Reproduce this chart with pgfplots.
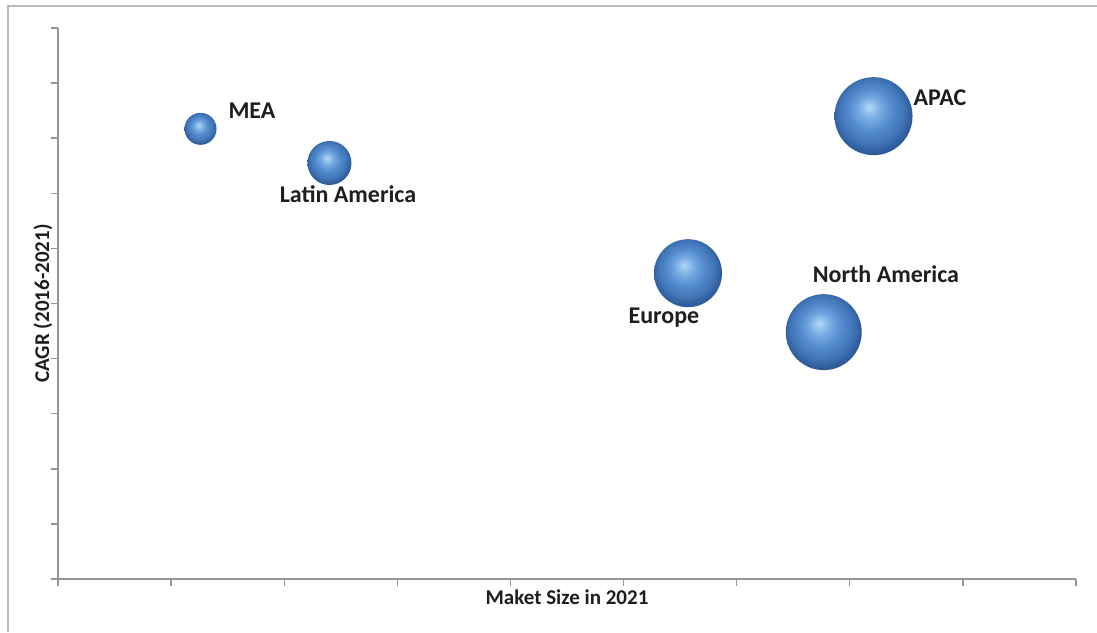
\documentclass[border=0pt]{standalone}
\usepackage{fontspec}
\setmainfont{Carlito}
\usepackage{pgfplots}
\pgfplotsset{compat=1.18}
\usepackage{pgfplotstable}

\definecolor{axisgray}{RGB}{150,150,150}
\definecolor{framegray}{RGB}{185,185,185}
\definecolor{labeltext}{RGB}{30,30,30}

\pgfdeclareradialshading{myballshade}{\pgfqpoint{-3bp}{6bp}}{%
  rgb(0bp)=(0.70,0.85,0.97);
  rgb(7bp)=(0.46,0.67,0.89);
  rgb(14bp)=(0.32,0.54,0.80);
  rgb(20bp)=(0.26,0.47,0.73);
  rgb(25bp)=(0.19,0.37,0.62);
  rgb(30bp)=(0.14,0.29,0.52);
  rgb(40bp)=(0.14,0.29,0.52)}
\pgfdeclareplotmark{myball}{%
  \pgfpathcircle{\pgfpointorigin}{\pgfplotmarksize}%
  \pgfshadepath{myballshade}{0}%
  \pgfusepath{}%
}

\pgfplotstableread{
x     y     r
1.26  8.17  8.0
2.40  7.55  11.0
7.21  8.40  19.5
5.57  5.55  17.0
6.77  4.48  19.0
}\bubbles

\begin{document}
\begin{tikzpicture}
\useasboundingbox (0,0) rectangle (548.5pt,316pt);
\draw[framegray, line width=1.2pt] (4pt,0) -- (4pt,313pt) -- (548.5pt,313pt);
\begin{axis}[
  at={(29pt,26.5pt)}, anchor=south west,
  scale only axis, width=509pt, height=275.5pt,
  xmin=0, xmax=9, ymin=0, ymax=10,
  axis x line=bottom, axis y line=left,
  axis line style={-, axisgray, line width=0.8pt},
  xtick={0,...,9}, ytick={0,...,10},
  xticklabels={}, yticklabels={},
  tick align=outside, major tick length=3.5pt,
  tick style={axisgray, line width=0.7pt},
  xlabel={\bfseries Maket Size in 2021},
  ylabel={\bfseries CAGR (2016-2021)},
  label style={font=\fontsize{10.5}{12}\selectfont, text=labeltext},
  xlabel style={at={(axis description cs:0.5,0)}, anchor=center, yshift=-9pt},
  ylabel style={at={(axis description cs:0,0.5)}, anchor=center, yshift=7.5pt},
  clip=false,
]
\addplot[scatter, only marks, mark=myball,
  visualization depends on={\thisrow{r} \as \rad},
  scatter/@pre marker code/.append style={/tikz/mark size=\rad},
] table[x=x, y=y] {\bubbles};

\begin{scope}[every node/.style={font=\fontsize{12}{14}\selectfont\bfseries, text=labeltext, inner sep=0pt}]
\node at (axis cs:1.715,8.49) {MEA};
\node at (axis cs:2.564,6.99) {Latin America};
\node at (axis cs:7.797,8.73) {APAC};
\node at (axis cs:7.32,5.535) {North America};
\node at (axis cs:5.357,4.737) {Europe};
\end{scope}
\end{axis}
\end{tikzpicture}
\end{document}
